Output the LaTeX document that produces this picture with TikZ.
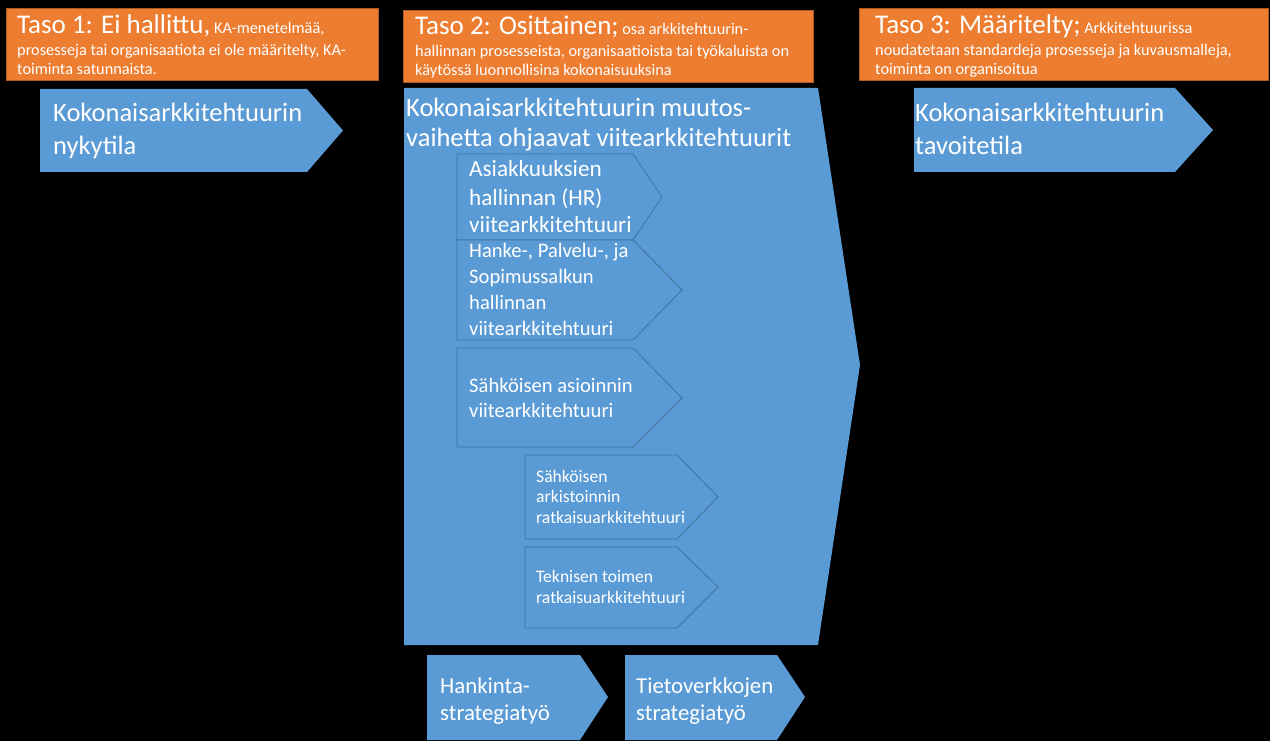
\documentclass[tikz,border=0pt]{standalone}
\usepackage{fontspec}
\setmainfont{Carlito}
\definecolor{orgfill}{HTML}{ED7D31}
\definecolor{orgdraw}{HTML}{AE5A21}
\definecolor{bluefill}{HTML}{5B9BD5}
\definecolor{innerdraw}{HTML}{41719C}
\begin{document}
\begin{tikzpicture}[x=1pt,y=-1pt,
  orangebox/.style={fill=orgfill, draw=orgdraw, line width=0.8pt},
  bluearrow/.style={fill=bluefill},
  innerarrow/.style={fill=bluefill, draw=innerdraw, line width=0.8pt},
  txt/.style={text=white, inner sep=0pt, anchor=base west, align=left},
  bigtxt/.style={txt, font=\fontsize{26.5}{33}\selectfont},
  smalltxt/.style={txt, font=\fontsize{16.3}{19}\selectfont},
]
\fill[black] (0,0) rectangle (1270,741);
\useasboundingbox (0,0) rectangle (1270,741);

% orange level boxes
\draw[orangebox] (6,8) rectangle (378,80);
\draw[orangebox] (403,10) rectangle (813,82);
\draw[orangebox] (859,8) rectangle (1268,80);

% (base anchor of a multi-line node = baseline of its last line)
\node[smalltxt] (t1) at (17,34) {{\fontsize{27}{27}\selectfont Taso 1: Ei hallittu,} KA-menetelmää,};
\node[smalltxt] (t1b) at (17,75) {prosesseja tai organisaatiota ei ole määritelty, KA-\\toiminta satunnaista.};
\node[smalltxt] (t2) at (415,35) {{\fontsize{27}{27}\selectfont Taso 2: Osittainen;} osa arkkitehtuurin-};
\node[smalltxt] (t2b) at (415,76) {hallinnan prosesseista, organisaatioista tai työkaluista on\\käytössä luonnollisina kokonaisuuksina};
\node[smalltxt] (t3) at (875,34) {{\fontsize{27}{27}\selectfont Taso 3: Määritelty;} Arkkitehtuurissa};
\node[smalltxt] (t3b) at (875,75) {noudatetaan standardeja prosesseja ja kuvausmalleja,\\toiminta on organisoitua};

% big arrows
\fill[bluearrow] (40,89) -- (307,89) -- (343,130.5) -- (307,172) -- (40,172) -- cycle;
\node[bigtxt] (nyky) at (53,155) {Kokonaisarkkitehtuurin\\nykytila};

\fill[bluearrow] (914,88) -- (1175,88) -- (1213,130) -- (1175,172) -- (914,172) -- cycle;
\node[bigtxt] (tavo) at (915,155) {Kokonaisarkkitehtuurin\\tavoitetila};

\fill[bluearrow] (404,88) -- (818,88) -- (860,365) -- (818,645) -- (404,645) -- cycle;
\node[txt, font=\fontsize{26.5}{30}\selectfont] (muutos) at (406,147) {Kokonaisarkkitehtuurin muutos-\\vaihetta ohjaavat viitearkkitehtuurit};

% inner arrows
\draw[innerarrow] (457,154) -- (633,154) -- (662,197) -- (633,240) -- (457,240) -- cycle;
\node[txt, font=\fontsize{23.2}{28}\selectfont] (hr) at (469,233) {Asiakkuuksien\\hallinnan (HR)\\viitearkkitehtuuri};

\draw[innerarrow] (457,240) -- (633,240) -- (682,290) -- (633,340) -- (457,340) -- cycle;
\node[txt, font=\fontsize{20.6}{25.7}\selectfont] (hanke) at (469,335) {Hanke-, Palvelu-, ja\\Sopimussalkun\\hallinnan\\viitearkkitehtuuri};

\draw[innerarrow] (457,348) -- (633,348) -- (682,398) -- (633,447) -- (457,447) -- cycle;
\node[txt, font=\fontsize{20.6}{25}\selectfont] (asio) at (469,417) {Sähköisen asioinnin\\viitearkkitehtuuri};

\draw[innerarrow] (525,455) -- (677,455) -- (718,497) -- (677,539) -- (525,539) -- cycle;
\node[txt, font=\fontsize{17.6}{20.5}\selectfont] (arki) at (536,523) {Sähköisen\\arkistoinnin\\ratkaisuarkkitehtuuri};

\draw[innerarrow] (525,547) -- (677,547) -- (718,587) -- (677,628) -- (525,628) -- cycle;
\node[txt, font=\fontsize{17.6}{21}\selectfont] (tekn) at (536,603) {Teknisen toimen\\ratkaisuarkkitehtuuri};

% bottom arrows
\fill[bluearrow] (427,655) -- (580,655) -- (608,697) -- (580,740) -- (427,740) -- cycle;
\node[txt, font=\fontsize{22.8}{27}\selectfont] (hank) at (440,720) {Hankinta-\\strategiatyö};

\fill[bluearrow] (625,655) -- (777,655) -- (805,697) -- (777,740) -- (625,740) -- cycle;
\node[txt, font=\fontsize{22.8}{27}\selectfont] (tieto) at (636,720) {Tietoverkkojen\\strategiatyö};
\end{tikzpicture}
\end{document}
